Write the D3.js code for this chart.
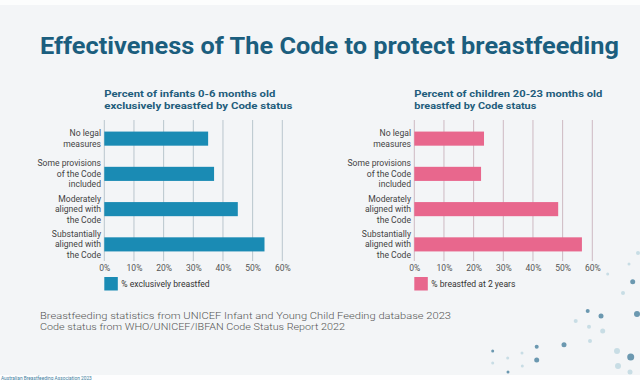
<!DOCTYPE html>
<html><head><meta charset="utf-8">
<script src="https://cdn.jsdelivr.net/npm/d3@7"></script>
<style>
html,body{margin:0;padding:0;background:#f3f5f7;}
svg{display:block;}
text{font-family:Roboto,"DejaVu Sans",sans-serif;}
</style></head>
<body><svg id="c" width="640" height="380"></svg>
<script>
// ---- data ----
const categories = [
  ["No legal","measures"],
  ["Some provisions","of the Code","included"],
  ["Moderately","aligned with","the Code"],
  ["Substantially","aligned with","the Code"]
];
const exclusiveValues = [35, 37, 45, 54];       // % exclusively breastfed (0-6 months)
const twoYearValues = [23.5, 22.5, 48.5, 56.5]; // % breastfed at 2 years
const tickValues = [0, 10, 20, 30, 40, 50, 60];
const title = "Effectiveness of The Code to protect breastfeeding";
const leftSubtitle = ["Percent of infants 0-6 months old","exclusively breastfed by Code status"];
const rightSubtitle = ["Percent of children 20-23 months old","breastfed by Code status"];
const leftLegend = "% exclusively breastfed";
const rightLegend = "% breastfed at 2 years";
const sourceLines = [
  "Breastfeeding statistics from UNICEF Infant and Young Child Feeding database 2023",
  "Code status from WHO/UNICEF/IBFAN Code Status Report 2022"
];
const footer = "Australian Breastfeeding Association 2023";
// decorative dots [x, y, r, dark?]
const decoDots = [
  [632.7,281.7,2.5,1],[623,293,2,0],[637,314,3,1],[587.7,311,2,1],[601,316,2.5,1],
  [575.7,321,2,0],[589,326.7,2,0],[602.7,331,2.5,0],[590,341,2,0],[564,344.7,2.5,1],
  [492.7,351,1.5,1],[507.7,358,1.5,0],[522,353,1.5,0],[536.7,346.7,2,1],[536.7,360,2.5,1],
  [522.3,366,1.5,0],[508,372,1.5,1],[617,351,3,0],[630.7,357,3.5,1],[618,366,3,0],
  [629,264,1.5,0],[607.7,274,1.5,0],[492.7,363,1.5,0],[630,372,2.5,0],[638,253,2,0]
];

const svg = d3.select("#c");
svg.append("rect").attr("x",0).attr("y",0).attr("width",640).attr("height",380).attr("fill","#f3f5f7");
svg.append("rect").attr("x",0).attr("y",0).attr("width",640).attr("height",5).attr("fill","#fcfdfd");
svg.append("rect").attr("x",0).attr("y",375).attr("width",640).attr("height",5).attr("fill","#fdfdfe");

svg.append("text").attr("x",40).attr("y",54).attr("font-size",23).attr("font-weight",700)
  .attr("font-family",'"Open Sans",Roboto,sans-serif')
  .attr("fill","#1b5e7e").attr("textLength",579).attr("lengthAdjust","spacingAndGlyphs").text(title);

svg.selectAll(".deco").data(decoDots).join("circle").attr("class","deco")
  .attr("cx",d=>d[0]).attr("cy",d=>d[1]).attr("r",d=>d[2])
  .attr("fill",d=>d[3]?"#6b98b0":"#c8dde5");

function drawChart(x0, labelX, subtitle, subWidths, values, color, gridColor, legendText){
  const x = d3.scaleLinear().domain([0,60]).range([x0, x0+178]);
  const y = d3.scaleBand().domain(d3.range(categories.length)).range([121,262]).paddingInner(0.6).paddingOuter(0.3);
  const g = svg.append("g");
  subtitle.forEach((s,i)=>{
    g.append("text").attr("x",x0).attr("y",94+i*11.5).attr("dy","0.35em").attr("font-size",9.6).attr("font-weight",700)
      .attr("fill","#1f5d7c").attr("textLength",subWidths[i]).attr("lengthAdjust","spacingAndGlyphs").text(s);
  });
  g.selectAll(".grid").data(tickValues).join("line")
    .attr("x1",d=>x(d)).attr("x2",d=>x(d)).attr("y1",120).attr("y2",261)
    .attr("stroke",gridColor).attr("stroke-width",1);
  const ax = d3.axisBottom(x).tickValues(tickValues).tickFormat(d=>d+"%").tickSize(0).tickPadding(4);
  const axg = g.append("g").attr("transform","translate(0,261)").call(ax);
  axg.select(".domain").remove();
  axg.selectAll("text").attr("font-size",8.5).attr("fill","#555").attr("font-family",'Roboto,sans-serif');
  g.selectAll(".bar").data(values).join("rect")
    .attr("x",x(0)).attr("y",(d,i)=>y(i)).attr("width",d=>x(d)-x(0)).attr("height",y.bandwidth()).attr("fill",color);
  categories.forEach((lines,i)=>{
    const cy = y(i)+y.bandwidth()/2;
    const n = lines.length;
    lines.forEach((l,j)=>{
      g.append("text").attr("x",labelX).attr("y",cy+(j-(n-1)/2)*10.4).attr("dy","0.35em")
        .attr("text-anchor","end").attr("font-size",8.6).attr("fill","#444").text(l);
    });
  });
  g.append("rect").attr("x",x0).attr("y",277).attr("width",13.5).attr("height",13.5).attr("fill",color);
  g.append("text").attr("x",x0+17).attr("y",284).attr("dy","0.35em").attr("font-size",8.6).attr("fill","#333").text(legendText);
}
drawChart(104.3, 101, leftSubtitle, [171,188], exclusiveValues, "#1a8bb4", "#b9c6cd", leftLegend);
drawChart(414.3, 411, rightSubtitle, [188,122], twoYearValues, "#e8678d", "#cdbac2", rightLegend);

sourceLines.forEach((s,i)=>{
  svg.append("text").attr("x",40).attr("y",315.7+i*11.4).attr("dy","0.35em").attr("font-size",9.6)
    .attr("fill","#555").attr("font-weight",300).attr("textLength",i===0?411:305).attr("lengthAdjust","spacingAndGlyphs").text(s);
});
svg.append("text").attr("x",1).attr("y",378.5).attr("dy","0.35em").attr("font-size",4.8).attr("fill","#3e7fa0").text(footer);
</script></body></html>
